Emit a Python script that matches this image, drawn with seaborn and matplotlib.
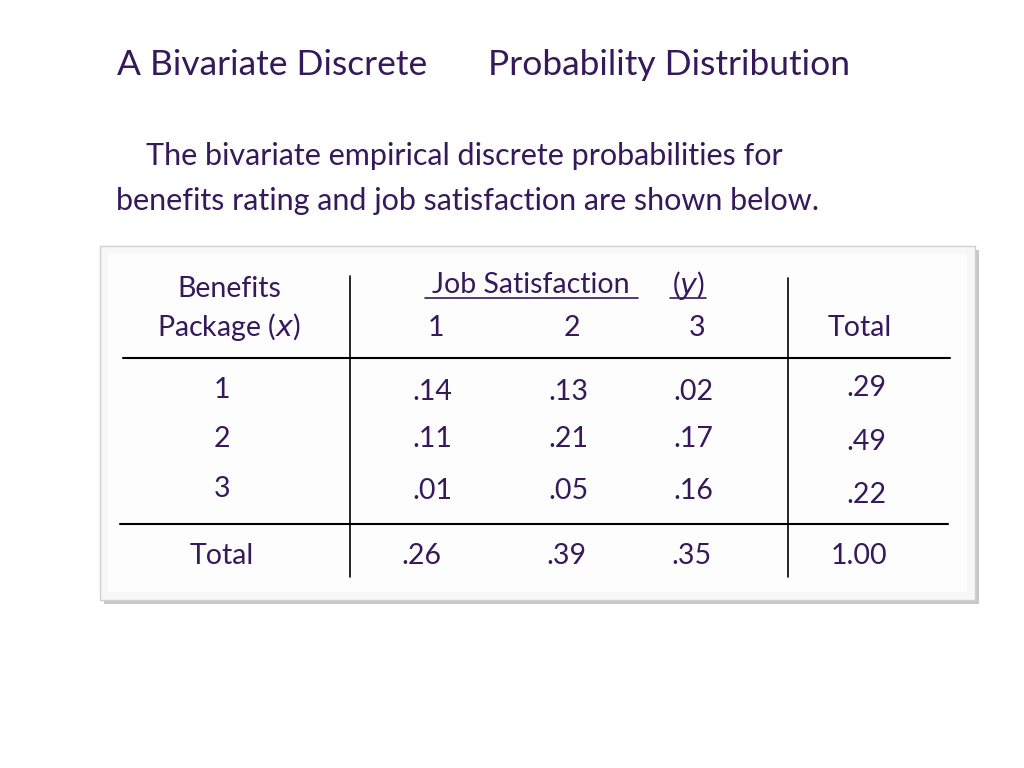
import matplotlib
matplotlib.use("Agg")
import matplotlib.pyplot as plt
import seaborn as sns
from matplotlib.patches import Rectangle

# table values
row_labels = ["1", "2", "3"]
col_labels = ["1", "2", "3"]
probs = [[".14", ".13", ".02"],
         [".11", ".21", ".17"],
         [".01", ".05", ".16"]]
row_totals = [".29", ".49", ".22"]
col_totals = [".26", ".39", ".35"]
grand_total = "1.00"

INK = "#35195a"
FONT = "Lato"

sns.set_theme(style="white", font=FONT)
fig = plt.figure(figsize=(10.24, 7.68), dpi=100)
ax = fig.add_axes([0, 0, 1, 1])
ax.set_xlim(0, 1024)
ax.set_ylim(768, 0)
ax.axis("off")

# titles
ax.text(117, 65, "A Bivariate Discrete", fontsize=25.5, color=INK, va="center")
ax.text(488, 65, "Probability Distribution", fontsize=25.5, color=INK, va="center")
ax.text(146, 156, "The bivariate empirical discrete probabilities for",
        fontsize=22, color=INK, va="center")
ax.text(116, 201, "benefits rating and job satisfaction are shown below.",
        fontsize=22, color=INK, va="center")

# box with shadow
ax.add_patch(Rectangle((104, 250), 875, 354, facecolor="#c8c8c8", edgecolor="none"))
ax.add_patch(Rectangle((100, 246), 875, 354, facecolor="#f7f7f7", edgecolor="#d0d0d0", lw=1))
ax.add_patch(Rectangle((108, 254), 859, 338, facecolor="white", edgecolor="none", alpha=0.8))

fs = 20.5
# header
ax.text(229, 289, "Benefits", fontsize=fs, color=INK, ha="center", va="center")
ax.text(229, 327, "Package ($\\it{x}$)", fontsize=fs, color=INK, ha="center", va="center")
ax.text(531, 285, "Job Satisfaction", fontsize=fs, color=INK, ha="center", va="center")
ax.plot([425, 638], [298, 298], color=INK, lw=1.2)
ax.text(688, 285, "($\\it{y}$)", fontsize=fs, color=INK, ha="center", va="center")
ax.plot([670, 706], [298, 298], color=INK, lw=1.2)
col_x = [436, 572, 697]
for x, lab in zip(col_x, col_labels):
    ax.text(x, 328, lab, fontsize=fs, color=INK, ha="center", va="center")
ax.text(860, 328, "Total", fontsize=fs, color=INK, ha="center", va="center")

# rules
ax.plot([123, 950], [358, 358], color="black", lw=1.5)
ax.plot([120, 948], [524, 524], color="black", lw=1.5)
ax.plot([350, 350], [276, 577], color="black", lw=1.2)
ax.plot([788, 788], [278, 577], color="black", lw=1.2)

# body
row_y = [392, 441, 491]
tot_y = [388, 442, 495]
prob_x = [432, 568, 693]
for i, y in enumerate(row_y):
    ax.text(222, y - 2, row_labels[i], fontsize=fs, color=INK, ha="center", va="center")
    for j, x in enumerate(prob_x):
        ax.text(x, y - (2 if i == 1 else 0), probs[i][j], fontsize=fs, color=INK,
                ha="center", va="center")
    ax.text(866, tot_y[i], row_totals[i], fontsize=fs, color=INK, ha="center", va="center")

ax.text(222, 556, "Total", fontsize=fs, color=INK, ha="center", va="center")
for x, v in zip([421, 566, 691], col_totals):
    ax.text(x, 556, v, fontsize=fs, color=INK, ha="center", va="center")
ax.text(859, 556, grand_total, fontsize=fs, color=INK, ha="center", va="center")

fig.savefig("out.png", dpi=100, facecolor="white")
